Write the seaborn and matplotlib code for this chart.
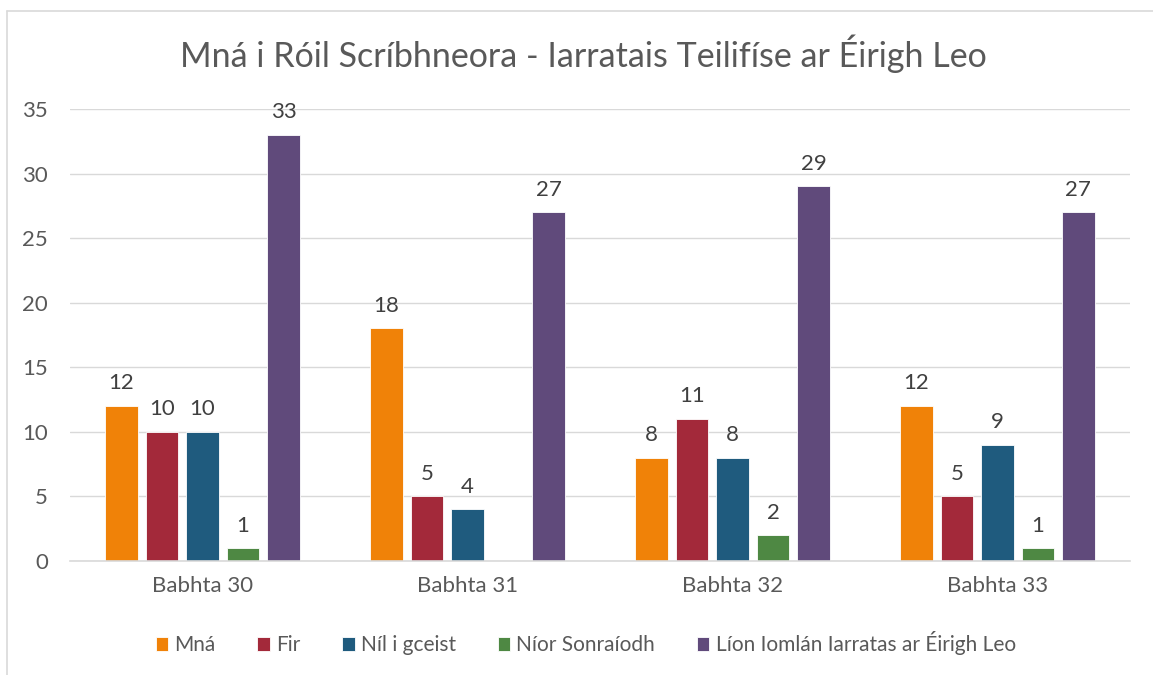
import numpy as np
import pandas as pd
import matplotlib
matplotlib.use("Agg")
import matplotlib.pyplot as plt
from matplotlib.lines import Line2D
import seaborn as sns

# --- DANE --------------------------------------------------------------------

BABHTAI = ["Babhta 30", "Babhta 31", "Babhta 32", "Babhta 33"]
SRAITH  = ["Mná", "Fir", "Níl i gceist", "Níor Sonraíodh",
           "Líon Iomlán Iarratas ar Éirigh Leo"]

MNA     = [12, 18, 8, 12]
FIR     = [10, 5, 11, 5]
NIL     = [10, 4, 8, 9]
NIOR    = [1, None, 2, 1]   # Babhta 31: gan luach
IOMLAN  = [33, 27, 29, 27]

DATHANNA = ["#F08208", "#A3293A", "#1F5B7E", "#4E8843", "#604A7B"]
TEIDEAL  = "Mná i Róil Scríbhneora - Iarratais Teilifíse ar Éirigh Leo"

# --- TABLA -------------------------------------------------------------------

luachanna = [MNA, FIR, NIL, NIOR, IOMLAN]
rows = []
for sraith, vals in zip(SRAITH, luachanna):
    for b, v in zip(BABHTAI, vals):
        rows.append({"Babhta": b, "Sraith": sraith,
                     "Luach": np.nan if v is None else v})
df = pd.DataFrame(rows)
df["Plot"] = df["Luach"].fillna(0)

# --- WYKRES ------------------------------------------------------------------

sns.set_theme(style="white")
plt.rcParams["font.family"] = ["Lato", "DejaVu Sans"]
GRAY = "#595959"

fig = plt.figure(figsize=(11.53, 6.75), dpi=100)
ax = fig.add_axes([0.0607, 0.169, 0.9193, 0.6696])

sns.barplot(data=df, x="Babhta", y="Plot", hue="Sraith",
            order=BABHTAI, hue_order=SRAITH, palette=DATHANNA,
            width=0.764, gap=0.2, errorbar=None,
            edgecolor="white", linewidth=0.6, saturation=1, ax=ax)

# etykiety danych
for cont, sraith in zip(ax.containers, SRAITH):
    vals = df[df["Sraith"] == sraith].set_index("Babhta").loc[BABHTAI, "Luach"]
    labels = ["" if pd.isna(v) else f"{int(v)}" for v in vals]
    ax.bar_label(cont, labels=labels, padding=9, fontsize=16, color="#404040")

ax.set_xlim(-0.5, 3.5)
ax.set_ylim(0, 35)
ax.set_yticks(range(0, 36, 5))
ax.yaxis.grid(True, color="#D9D9D9", linewidth=1)
ax.set_axisbelow(True)
for s in ["top", "right", "left"]:
    ax.spines[s].set_visible(False)
ax.spines["bottom"].set_color("#D9D9D9")
ax.spines["bottom"].set_linewidth(1.2)
ax.tick_params(axis="both", length=0, labelsize=16, labelcolor=GRAY)
ax.tick_params(axis="y", pad=16)
ax.tick_params(axis="x", pad=11)
ax.set_xlabel("")
ax.set_ylabel("")

fig.text(0.506, 0.92, TEIDEAL, ha="center", va="center",
         fontsize=24.5, color=GRAY)

handles, labels = ax.get_legend_handles_labels()
ax.legend(handles, labels, loc="center", bbox_to_anchor=(0.508, 0.047),
          bbox_transform=fig.transFigure, ncol=5, frameon=False,
          fontsize=15, handlelength=0.6, handleheight=0.6,
          handletextpad=0.3, columnspacing=2.0, labelcolor=GRAY)

# ramka wykresu (lewa i gorna krawedz)
x0, y0 = 7 / 1153, 1 - 11 / 675
fig.add_artist(Line2D([x0, x0], [0, y0], transform=fig.transFigure,
                      color="#D9D9D9", linewidth=1.2))
fig.add_artist(Line2D([x0, 1], [y0, y0], transform=fig.transFigure,
                      color="#D9D9D9", linewidth=1.2))

plt.savefig("out.png", dpi=100)
plt.close()
